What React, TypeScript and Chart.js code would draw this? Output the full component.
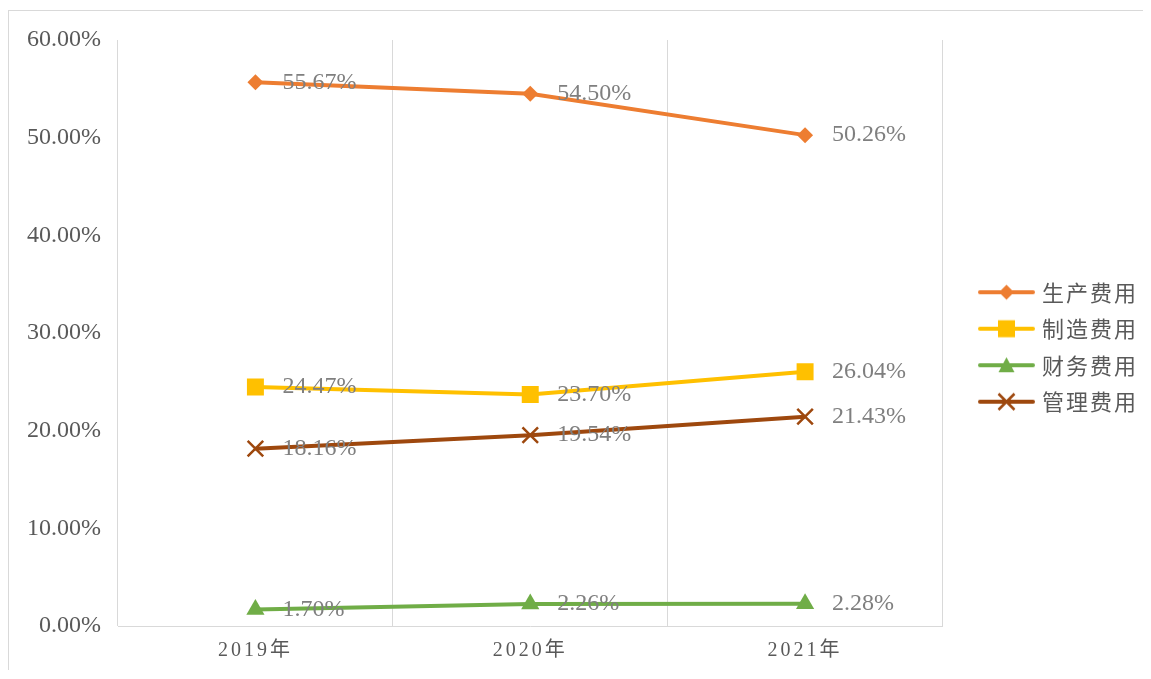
import React, { useEffect, useRef } from 'react';
import { Chart, registerables } from 'chart.js';

Chart.register(...registerables);

const categories = ['2019年', '2020年', '2021年'];
const seriesNames = ['生产费用', '制造费用', '财务费用', '管理费用'];
const production = [55.67, 54.5, 50.26];
const manufacturing = [24.47, 23.7, 26.04];
const finance = [1.7, 2.26, 2.28];
const management = [18.16, 19.54, 21.43];
const yMin = 0;
const yMax = 60;
const yStep = 10;

const seriesColors = ['#ED7D31', '#FFC000', '#70AD47', '#9E480E'];
const seriesStyles = ['rectRot', 'rect', 'triangle', 'crossRot'];
const seriesRadii = [8, 12, 10.5, 11];

const SERIF = "'Liberation Serif', 'Times New Roman', 'Noto Sans CJK SC', serif";
const CJK = "'Noto Sans CJK SC', 'Noto Sans', sans-serif";

function makeLegendImage(color: string, style: string): HTMLCanvasElement {
  const c = document.createElement('canvas');
  const w = 82;
  const h = 24;
  c.width = w;
  c.height = h;
  const ctx = c.getContext('2d')!;
  const cy = h / 2;
  ctx.strokeStyle = color;
  ctx.fillStyle = color;
  ctx.lineWidth = 4;
  ctx.lineCap = 'round';
  ctx.beginPath();
  ctx.moveTo(27, cy);
  ctx.lineTo(80, cy);
  ctx.stroke();
  const cx = 53.5;
  ctx.beginPath();
  if (style === 'rectRot') {
    const r = 7.5;
    ctx.moveTo(cx - r, cy);
    ctx.lineTo(cx, cy - r);
    ctx.lineTo(cx + r, cy);
    ctx.lineTo(cx, cy + r);
    ctx.closePath();
    ctx.fill();
  } else if (style === 'rect') {
    const s = 8.5;
    ctx.rect(cx - s, cy - s, 2 * s, 2 * s);
    ctx.fill();
  } else if (style === 'triangle') {
    ctx.moveTo(cx, cy - 8);
    ctx.lineTo(cx + 8, cy + 7);
    ctx.lineTo(cx - 8, cy + 7);
    ctx.closePath();
    ctx.fill();
  } else {
    const s = 8;
    ctx.lineWidth = 2.5;
    ctx.lineCap = 'butt';
    ctx.moveTo(cx - s, cy - s);
    ctx.lineTo(cx + s, cy + s);
    ctx.moveTo(cx + s, cy - s);
    ctx.lineTo(cx - s, cy + s);
    ctx.stroke();
  }
  return c;
}

function withSpacing(obj: any, method: string, spacing: string) {
  if (!obj || obj['__spaced_' + method]) return;
  const orig = obj[method];
  obj[method] = function (...args: any[]) {
    const ctx = this.ctx;
    ctx.save();
    (ctx as any).letterSpacing = spacing;
    const r = orig.apply(this, args);
    ctx.restore();
    return r;
  };
  obj['__spaced_' + method] = true;
}

const spacingPlugin = {
  id: 'textSpacing',
  beforeDraw(chart: any) {
    withSpacing(chart.scales.x, 'drawLabels', '3px');
    withSpacing(chart.legend, 'draw', '2px');
  },
};

const valueLabelPlugin = {
  id: 'valueLabels',
  afterDatasetsDraw(chart: any) {
    const ctx = chart.ctx;
    ctx.save();
    ctx.font = `24px ${SERIF}`;
    ctx.fillStyle = '#7f7f7f';
    ctx.textAlign = 'left';
    ctx.textBaseline = 'middle';
    chart.data.datasets.forEach((ds: any, i: number) => {
      const meta = chart.getDatasetMeta(i);
      meta.data.forEach((pt: any, j: number) => {
        ctx.fillText(Number(ds.data[j]).toFixed(2) + '%', pt.x + 27, pt.y);
      });
    });
    ctx.restore();
  },
};

export default function App() {
  const ref = useRef<HTMLCanvasElement | null>(null);

  useEffect(() => {
    if (!ref.current) return;
    document.documentElement.style.overflow = 'hidden';
    document.body.style.overflow = 'hidden';
    const seriesData = [production, manufacturing, finance, management];
    const legendImages = seriesColors.map((c, i) => makeLegendImage(c, seriesStyles[i]));
    const datasets = seriesNames.map((name, i) => ({
      label: name,
      data: seriesData[i],
      borderColor: seriesColors[i],
      backgroundColor: seriesColors[i],
      borderWidth: 4,
      pointStyle: seriesStyles[i] as any,
      pointRadius: seriesRadii[i],
      pointHoverRadius: seriesRadii[i],
      pointBorderWidth: seriesStyles[i] === 'crossRot' ? 2.5 : 0,
      pointBackgroundColor: seriesColors[i],
      pointBorderColor: seriesColors[i],
      tension: 0,
      fill: false,
    }));

    const chart = new Chart(ref.current, {
      type: 'line',
      data: { labels: categories, datasets },
      plugins: [spacingPlugin, valueLabelPlugin],
      options: {
        animation: false,
        responsive: true,
        maintainAspectRatio: false,
        events: [],
        layout: { padding: { top: 29, right: 11, bottom: 0, left: 0 } },
        plugins: {
          tooltip: { enabled: false },
          title: { display: false },
          legend: {
            display: true,
            position: 'right',
            align: 'center',
            fullSize: false,
            title: { display: true, text: '', font: { size: 10, lineHeight: 1.2 }, padding: { top: 8, bottom: 8 } },
            labels: {
              usePointStyle: true,
              pointStyleWidth: 74,
              padding: 14.5,
              color: '#595959',
              font: { family: CJK, size: 22 },
              generateLabels: (ch: any) =>
                (Chart.defaults.plugins.legend.labels.generateLabels as any)(ch).map((l: any, i: number) => ({
                  ...l,
                  pointStyle: legendImages[i],
                })),
            },
          },
        },
        scales: {
          x: {
            type: 'category',
            offset: true,
            grid: { display: true, offset: true, color: '#d9d9d9', lineWidth: 1, drawTicks: false },
            border: { display: true, color: '#d9d9d9', width: 1 },
            ticks: { color: '#595959', font: { family: SERIF, size: 20 }, padding: 13 },
            afterFit: (s: any) => {
              s.height = 44;
            },
          },
          y: {
            min: yMin,
            max: yMax,
            ticks: {
              stepSize: yStep,
              color: '#595959',
              font: { family: SERIF, size: 24, lineHeight: 0.9 },
              padding: 17,
              callback: (v: any) => Number(v).toFixed(2) + '%',
            },
            grid: { display: false, drawTicks: false },
            border: { display: false },
            afterFit: (s: any) => {
              s.width = 109;
            },
          },
        },
      },
    });
    return () => chart.destroy();
  }, []);

  return (
    <div
      style={{
        position: 'relative',
        boxSizing: 'border-box',
        width: 1143,
        marginRight: -8,
        height: 660,
        marginTop: 2,
        borderTop: '1px solid #d9d9d9',
        borderLeft: '1px solid #d9d9d9',
      }}
    >
      <canvas ref={ref} />
    </div>
  );
}
